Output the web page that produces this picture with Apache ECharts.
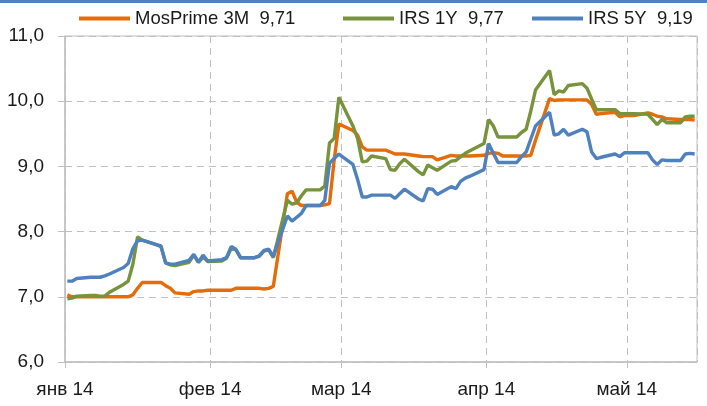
<!DOCTYPE html>
<html><head><meta charset="utf-8">
<script src="https://cdn.jsdelivr.net/npm/echarts@6/dist/echarts.min.js"></script>
<style>html,body{margin:0;padding:0;background:#fff}#c{width:707px;height:406px}</style>
</head><body><div id="c"></div>
<script>
// Business days (data dates)
const dates = [
'2014-01-01','2014-01-02','2014-01-03','2014-01-06','2014-01-07','2014-01-08','2014-01-09','2014-01-10',
'2014-01-13','2014-01-14','2014-01-15','2014-01-16','2014-01-17',
'2014-01-20','2014-01-21','2014-01-22','2014-01-23','2014-01-24',
'2014-01-27','2014-01-28','2014-01-29','2014-01-30','2014-01-31',
'2014-02-03','2014-02-04','2014-02-05','2014-02-06','2014-02-07',
'2014-02-10','2014-02-11','2014-02-12','2014-02-13','2014-02-14',
'2014-02-17','2014-02-18','2014-02-19','2014-02-20','2014-02-21',
'2014-02-24','2014-02-25','2014-02-26','2014-02-27','2014-02-28',
'2014-03-03','2014-03-04','2014-03-05','2014-03-06','2014-03-07',
'2014-03-10','2014-03-11','2014-03-12','2014-03-13','2014-03-14',
'2014-03-17','2014-03-18','2014-03-19','2014-03-20','2014-03-21',
'2014-03-24','2014-03-25','2014-03-26','2014-03-27','2014-03-28',
'2014-03-31','2014-04-01','2014-04-02','2014-04-03','2014-04-04',
'2014-04-07','2014-04-08','2014-04-09','2014-04-10','2014-04-11',
'2014-04-14','2014-04-15','2014-04-16','2014-04-17','2014-04-18',
'2014-04-21','2014-04-22','2014-04-23','2014-04-24','2014-04-25',
'2014-04-28','2014-04-29','2014-04-30','2014-05-01','2014-05-02',
'2014-05-05','2014-05-06','2014-05-07','2014-05-08','2014-05-09',
'2014-05-12','2014-05-13','2014-05-14','2014-05-15'
];

const mosprime3m = [
7.03,7.00,7.00,7.00,7.00,7.00,7.00,7.00,
7.00,7.00,7.03,7.13,7.22,
7.22,7.22,7.17,7.13,7.06,
7.04,7.08,7.09,7.09,7.10,
7.10,7.10,7.10,7.13,7.13,
7.13,7.13,7.12,7.13,7.16,
8.58,8.62,8.45,8.40,8.40,
8.40,8.41,8.43,9.10,9.65,
9.55,9.48,9.30,9.25,9.25,
9.25,9.22,9.19,9.19,9.19,
9.16,9.15,9.15,9.15,9.10,
9.17,9.16,9.16,9.16,9.16,
9.17,9.20,9.21,9.20,9.16,
9.16,9.16,9.16,9.17,9.40,
10.04,10.01,10.02,10.02,10.02,
10.02,10.02,9.95,9.80,9.81,
9.83,9.76,9.78,9.78,9.78,
9.82,9.80,9.77,9.76,9.73,
9.72,9.72,9.72,9.71
];

const irs1y = [
6.97,6.98,7.01,7.02,7.02,7.01,7.01,7.07,
7.19,7.24,7.50,7.92,7.87,
7.80,7.77,7.52,7.49,7.48,
7.53,7.64,7.53,7.61,7.54,
7.55,7.59,7.74,7.72,7.60,
7.60,7.62,7.70,7.72,7.60,
8.48,8.42,8.44,8.55,8.64,
8.64,8.70,9.36,9.43,10.06,
9.62,9.43,9.07,9.08,9.16,
9.12,8.95,8.94,9.04,9.11,
8.92,8.87,9.02,8.98,8.94,
9.08,9.09,9.15,9.20,9.24,
9.35,9.72,9.62,9.45,9.45,
9.45,9.52,9.57,9.85,10.17,
10.47,10.10,10.16,10.14,10.24,
10.27,10.20,10.03,9.87,9.87,
9.87,9.81,9.81,9.81,9.81,
9.80,9.72,9.64,9.72,9.67,
9.67,9.76,9.77,9.77
];

const irs5y = [
7.24,7.24,7.28,7.30,7.30,7.30,7.32,7.35,
7.45,7.51,7.74,7.86,7.87,
7.80,7.78,7.52,7.50,7.50,
7.56,7.65,7.53,7.64,7.55,
7.57,7.60,7.77,7.73,7.60,
7.60,7.63,7.71,7.73,7.62,
8.24,8.16,8.22,8.28,8.40,
8.40,8.48,9.05,9.12,9.19,
9.03,8.80,8.53,8.53,8.56,
8.56,8.56,8.51,8.58,8.65,
8.50,8.47,8.66,8.65,8.57,
8.69,8.66,8.77,8.82,8.85,
8.95,9.35,9.20,9.06,9.06,
9.06,9.15,9.22,9.42,9.62,
9.83,9.48,9.50,9.57,9.48,
9.57,9.53,9.22,9.12,9.14,
9.19,9.15,9.21,9.21,9.21,
9.21,9.10,9.03,9.10,9.09,
9.09,9.19,9.20,9.19
];

const seriesNames = ['MosPrime 3M  9,71', 'IRS 1Y  9,77', 'IRS 5Y  9,19'];
const seriesColors = ['#E46C0A', '#77933C', '#4F81BD'];
const monthNames = ['янв','фев','мар','апр','май','июн','июл','авг','сен','окт','ноя','дек'];
const xMin = '2014-01-01';
const xMax = '2014-05-16';
const yMin = 6, yMax = 11, yStep = 1;

function ts(s, h) { const p = s.split('-').map(Number); return new Date(p[0], p[1]-1, p[2], h || 0).getTime(); }
function build(vals) { return dates.map((d, i) => [ts(d, 12), vals[i]]); }

const FONT = 'Liberation Sans';
const TXT = '#1a1a1a';
const chart = echarts.init(document.getElementById('c'), null, {renderer: 'canvas'});
const gridColor = '#C0C0C0';
const legendLeft = [79, 343, 532];
chart.setOption({
  animation: false,
  backgroundColor: '#ffffff',
  textStyle: {fontFamily: FONT},
  graphic: [{type: 'rect', left: 0, top: 0, shape: {width: 707, height: 3}, style: {fill: '#4F81BD'}}],
  legend: seriesNames.map((n, i) => ({
    left: legendLeft[i], top: 9, itemWidth: 51, itemHeight: 4, icon: 'rect', padding: 0,
    textStyle: {fontFamily: FONT, fontSize: 18.5, color: TXT},
    data: [n]
  })),
  grid: {left: 65, right: 10, top: 36, bottom: 44, show: true, borderColor: gridColor, borderWidth: 1},
  xAxis: {
    type: 'time', min: ts(xMin), max: ts(xMax), splitNumber: 5,
    minInterval: 28 * 86400000, maxInterval: 31 * 86400000,
    axisLine: {lineStyle: {color: gridColor, width: 1.5}},
    axisTick: {show: true, length: 6, lineStyle: {color: gridColor}},
    axisLabel: {
      fontFamily: FONT, fontSize: 19, color: TXT, margin: 18,
      formatter: function (v) { const d = new Date(v); return monthNames[d.getMonth()] + ' ' + String(d.getFullYear()).slice(2); }
    },
    splitLine: {show: true, lineStyle: {color: gridColor, type: [7, 5], width: 1}}
  },
  yAxis: {
    type: 'value', min: yMin, max: yMax, interval: yStep,
    axisLine: {show: true, lineStyle: {color: gridColor, width: 1.5}},
    axisTick: {show: true, length: 7, lineStyle: {color: gridColor}},
    axisLabel: {
      fontFamily: FONT, fontSize: 19, color: TXT, margin: 21,
      formatter: v => v.toFixed(1).replace('.', ',')
    },
    splitLine: {show: true, lineStyle: {color: gridColor, type: [7, 5], width: 1}}
  },
  series: [mosprime3m, irs1y, irs5y].map((vals, i) => ({
    name: seriesNames[i], type: 'line', data: build(vals), showSymbol: false, symbol: 'none',
    lineStyle: {color: seriesColors[i], width: 3.4}, itemStyle: {color: seriesColors[i]}
  }))
});
</script></body></html>
